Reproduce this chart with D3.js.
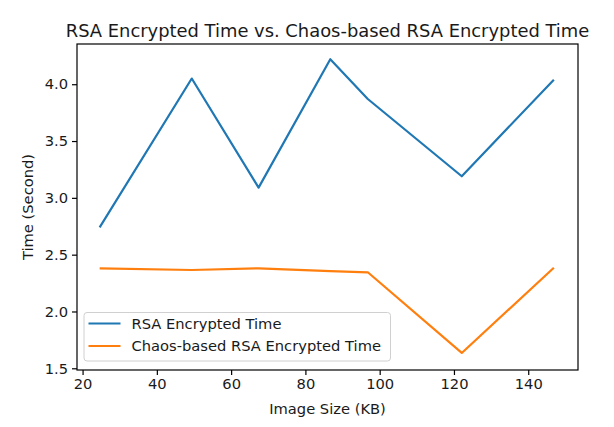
<!DOCTYPE html>
<html>
<head>
<meta charset="utf-8">
<script src="https://cdn.jsdelivr.net/npm/d3@7"></script>
<style>
  html, body { margin: 0; padding: 0; background: #fff; }
  svg { display: block; font-family: "DejaVu Sans", sans-serif; }
</style>
</head>
<body>
<svg id="chart" width="614" height="427"></svg>
<script>
const imageSizes = [24.6, 49.4, 67.4, 86.7, 96.8, 122.1, 146.9];
const rsaTime = [2.74, 4.05, 3.09, 4.22, 3.87, 3.19, 4.04];
const chaosTime = [2.38, 2.365, 2.38, 2.355, 2.345, 1.635, 2.385];
const seriesNames = ["RSA Encrypted Time", "Chaos-based RSA Encrypted Time"];
const xTicks = [20, 40, 60, 80, 100, 120, 140];
const yTicks = [1.5, 2.0, 2.5, 3.0, 3.5, 4.0];
const colors = ["#1f77b4", "#ff7f0e"];

const svg = d3.select("#chart");
const L = 77, R = 578, T = 44, B = 370;
const x = d3.scaleLinear().domain([18.5, 153.4]).range([L, R]);
const y = d3.scaleLinear().domain([1.485, 4.354]).range([B, T]);
const textColor = "#1a1a1a";
const fs = 14.7;

// lines
const line = d3.line().x(d => x(d[0])).y(d => y(d[1]));
[rsaTime, chaosTime].forEach((vals, i) => {
  svg.append("path")
    .datum(imageSizes.map((s, j) => [s, vals[j]]))
    .attr("fill", "none")
    .attr("stroke", colors[i])
    .attr("stroke-width", 2.2)
    .attr("stroke-linejoin", "round")
    .attr("d", line);
});

// axes
const xAxis = svg.append("g").attr("transform", `translate(0,${B})`)
  .call(d3.axisBottom(x).tickValues(xTicks).tickFormat(d3.format("d")).tickSize(5).tickPadding(4));
const yAxis = svg.append("g").attr("transform", `translate(${L},0)`)
  .call(d3.axisLeft(y).tickValues(yTicks).tickFormat(d3.format(".1f")).tickSize(5).tickPadding(4));
[xAxis, yAxis].forEach(g => {
  g.select(".domain").remove();
  g.selectAll(".tick line").attr("stroke", "#000").attr("stroke-width", 1.2);
  g.selectAll(".tick text").attr("fill", textColor).style("font-size", fs + "px").style("font-family", "DejaVu Sans");
});

// frame
svg.append("rect").attr("x", L).attr("y", T).attr("width", R - L).attr("height", B - T)
  .attr("fill", "none").attr("stroke", "#000").attr("stroke-width", 1.2);

// title & labels
svg.append("text").attr("x", (L + R) / 2).attr("y", 37).attr("text-anchor", "middle")
  .attr("fill", textColor).style("font-size", "17.9px").text("RSA Encrypted Time vs. Chaos-based RSA Encrypted Time");
svg.append("text").attr("x", (L + R) / 2).attr("y", 414).attr("text-anchor", "middle")
  .attr("fill", textColor).style("font-size", fs + "px").text("Image Size (KB)");
svg.append("text").attr("transform", `translate(33,${(T + B) / 2}) rotate(-90)`).attr("text-anchor", "middle")
  .attr("fill", textColor).style("font-size", fs + "px").text("Time (Second)");

// legend
const lg = svg.append("g");
lg.append("rect").attr("x", 84).attr("y", 312.5).attr("width", 306.5).attr("height", 48.5)
  .attr("rx", 3).attr("fill", "#fff").attr("fill-opacity", 0.8).attr("stroke", "#d0d0d0").attr("stroke-width", 1);
seriesNames.forEach((n, i) => {
  const yy = 323.5 + i * 22.5;
  lg.append("line").attr("x1", 88.5).attr("x2", 120.5).attr("y1", yy).attr("y2", yy)
    .attr("stroke", colors[i]).attr("stroke-width", 2.2);
  lg.append("text").attr("x", 131.5).attr("y", yy + 5.3).attr("fill", textColor)
    .style("font-size", fs + "px").text(n);
});
</script>
</body>
</html>
